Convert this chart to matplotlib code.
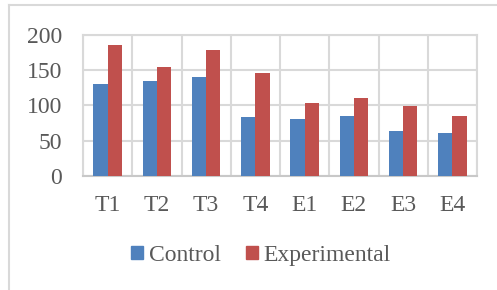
import matplotlib

matplotlib.use("Agg")
import matplotlib.pyplot as plt
from matplotlib.lines import Line2D
from matplotlib.patches import Patch
import numpy as np

categories = ["T1", "T2", "T3", "T4", "E1", "E2", "E3", "E4"]
control = [130, 134, 140, 84, 80, 85, 64, 60]
experimental = [186, 155, 178, 146, 103, 111, 99, 85]
y_ticks = [0, 50, 100, 150, 200]

BLUE = "#4F81BD"
RED = "#C0504D"
TEXT = "#595959"
GRID = "#D9D9D9"

W, H = 497, 290
plt.rcParams["font.family"] = ["Liberation Serif", "DejaVu Serif"]

fig = plt.figure(figsize=(W / 100, H / 100), dpi=100)
fig.patch.set_facecolor("white")

# outer chart frame: only top and left edges are visible
fig.add_artist(Line2D([9 / W, 1.0], [1 - 5 / H, 1 - 5 / H], color=GRID, lw=1.5))
fig.add_artist(Line2D([9 / W, 9 / W], [1 - 5 / H, 0.0], color=GRID, lw=1.5))

left, right, top, bottom = 83, 477, 35, 175.7
ax = fig.add_axes([left / W, 1 - bottom / H, (right - left) / W, (bottom - top) / H])

x = np.arange(len(categories))
width = 0.29
ax.bar(x - width / 2, control, width, color=BLUE, label="Control", zorder=3)
ax.bar(x + width / 2, experimental, width, color=RED, label="Experimental", zorder=3)

ax.set_xlim(-0.5, len(categories) - 0.5)
ax.set_ylim(0, 200)
ax.set_yticks(y_ticks)
ax.set_xticks(x)
ax.set_xticklabels(categories)
ax.set_xticks(np.arange(len(categories) + 1) - 0.5, minor=True)
ax.tick_params(which="both", length=0)
ax.tick_params(axis="y", pad=15, labelsize=17, labelcolor=TEXT)
ax.tick_params(axis="x", pad=14, labelsize=17, labelcolor=TEXT)
ax.grid(axis="y", which="major", color=GRID, lw=1.5, zorder=0)
ax.grid(axis="x", which="minor", color=GRID, lw=1.5, zorder=0)
for side, sp in ax.spines.items():
    sp.set_color("#C8C8C8" if side == "bottom" else GRID)
    sp.set_linewidth(1.5)

handles = [Patch(color=BLUE, label="Control"), Patch(color=RED, label="Experimental")]
fig.legend(handles=handles, loc="center", bbox_to_anchor=(0.525, 0.12), ncol=2,
           frameon=False, fontsize=17, labelcolor=TEXT, handlelength=0.5,
           handleheight=0.5, handletextpad=0.25, columnspacing=1.05)

fig.savefig("out.png", dpi=100)
